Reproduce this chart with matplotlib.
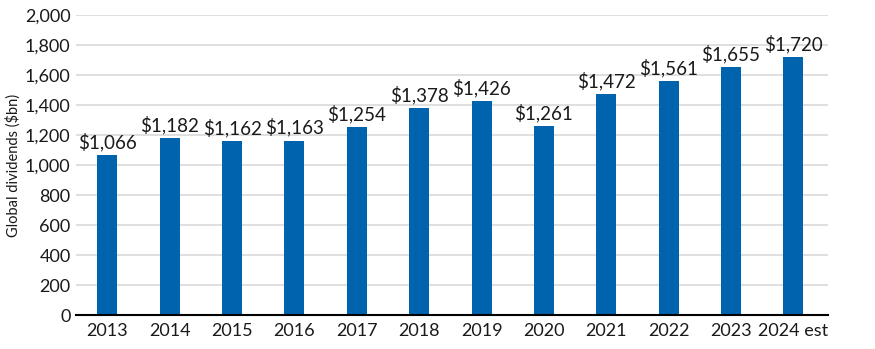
import matplotlib
matplotlib.use('Agg')
import matplotlib.pyplot as plt
from matplotlib.ticker import FuncFormatter

# --- 数据 ---
years = ['2013', '2014', '2015', '2016', '2017', '2018', '2019', '2020',
         '2021', '2022', '2023', '2024 est']
dividends = [1066, 1182, 1162, 1163, 1254, 1378, 1426, 1261, 1472, 1561, 1655, 1720]

BAR_COLOR = '#0063AE'
GRID_COLOR = '#d9d9d9'

plt.rcParams['font.family'] = ['Lato', 'DejaVu Sans']

fig = plt.figure(figsize=(8.75, 3.49), dpi=100)
ax = fig.add_axes([0.087, 0.097, 0.859, 0.86])

x = list(range(len(years)))
ax.bar(x, dividends, width=0.32, color=BAR_COLOR, zorder=3)

# 数值标签
for xi, v in zip(x, dividends):
    ax.text(xi, v + 25, f'${v:,}', ha='center', va='bottom', fontsize=13.5, color='#1a1a1a')

ax.set_ylim(0, 2000)
ax.set_xlim(-0.5, 11.55)
ax.set_yticks(range(0, 2001, 200))
ax.yaxis.set_major_formatter(FuncFormatter(lambda v, p: f'{int(v):,}'))
ax.set_xticks(x)
ax.set_xticklabels(years)
ax.tick_params(axis='both', length=0, labelsize=13, colors='#1a1a1a')
ax.tick_params(axis='x', pad=6)
ax.tick_params(axis='y', pad=4)

ax.set_ylabel('Global dividends ($bn)', fontsize=10.5, color='#1a1a1a', labelpad=3)

ax.yaxis.grid(True, color=GRID_COLOR, linewidth=1.2, zorder=0)
for s in ['top', 'right', 'left']:
    ax.spines[s].set_visible(False)
ax.spines['bottom'].set_color('black')
ax.spines['bottom'].set_linewidth(1.5)
ax.spines['bottom'].set_zorder(4)

fig.savefig('out.png', dpi=100)
